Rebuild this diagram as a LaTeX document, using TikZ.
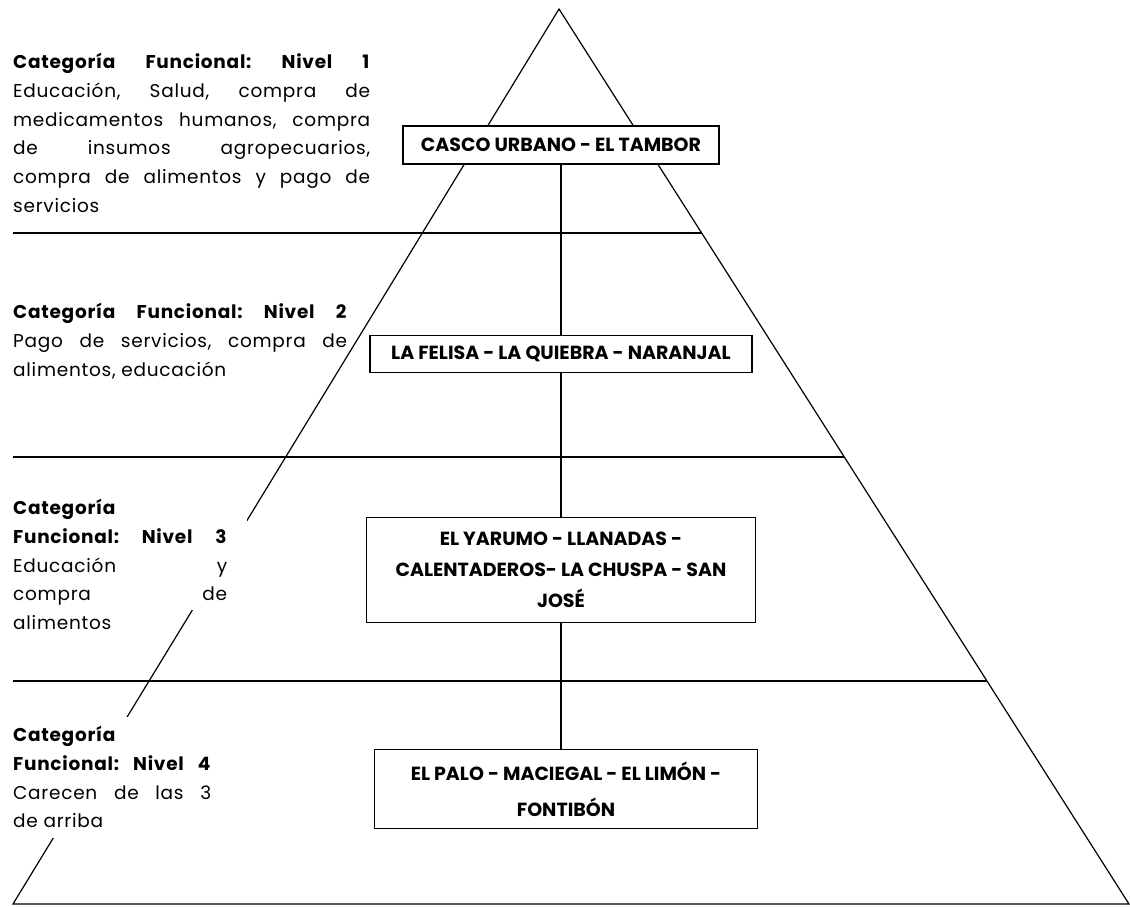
\documentclass[tikz,border=0pt]{standalone}
\usepackage{fontspec}
\setmainfont{Poppins}

\begin{document}
\begin{tikzpicture}[x=1pt, y=-1pt,
        lugar/.style={draw, line width=1.2pt, fill=white, align=center, inner sep=0pt,
            font=\fontsize{19}{31}\selectfont\bfseries},
        categoria/.style={anchor=north west, align=justify, inner sep=0pt,
            font=\fontsize{18.5}{28.8}\selectfont\addfontfeature{LetterSpace=4}\frenchspacing}]
    \useasboundingbox (0,0) rectangle (1130,906);
    \draw[line width=1.2pt] (559,9) -- (1129,904) -- (13,904) -- cycle;
    \foreach \y/\x in {233/702, 457/844, 681/987}
        \draw[line width=1.2pt] (13,\y) -- (\x,\y);
    \fill[white] (5,485) rectangle (247,610);
    \fill[white] (5,717) rectangle (215,838);

    \node[categoria, text width=357pt] (cat1) at (13,53) {\textbf{Categoría Funcional: Nivel 1}\linebreak
        Educación, Salud, compra de\linebreak
        medicamentos humanos, compra\linebreak
        de insumos agropecuarios,\linebreak
        compra de alimentos y pago de\linebreak
        servicios};
    \node[categoria, text width=334pt] (cat2) at (13,303) {\textbf{Categoría Funcional: Nivel 2}\linebreak
        Pago de servicios, compra de\linebreak
        alimentos, educación};
    \node[categoria, text width=214pt] (cat3) at (13,499) {\textbf{Categoría}\newline
        \textbf{Funcional: Nivel 3}\linebreak
        Educación y\linebreak
        compra de\linebreak
        alimentos};
    \node[categoria, text width=198pt] (cat4) at (13,726) {\textbf{Categoría}\newline
        \textbf{Funcional: Nivel 4}\linebreak
        Carecen de las 3\linebreak
        de arriba};

    \node[lugar, minimum width=316pt, minimum height=38pt] (casco) at (561,145) {CASCO URBANO - EL TAMBOR};
    \node[lugar, minimum width=382pt, minimum height=37pt] (felisa) at (561,354) {LA FELISA - LA QUIEBRA - NARANJAL};
    \node[lugar, minimum width=389pt, minimum height=105pt] (yarumo) at (561,570) {EL YARUMO - LLANADAS -\\CALENTADEROS- LA CHUSPA - SAN\\JOSÉ};
    \node[lugar, minimum width=383pt, minimum height=79pt, font=\fontsize{19}{36}\selectfont\bfseries] (palo) at (566,789) {EL PALO - MACIEGAL - EL LIMÓN -\\FONTIBÓN};
    \draw[line width=1.2pt] (casco) -- (felisa) -- (yarumo) -- (yarumo |- palo.north);
\end{tikzpicture}
\end{document}
